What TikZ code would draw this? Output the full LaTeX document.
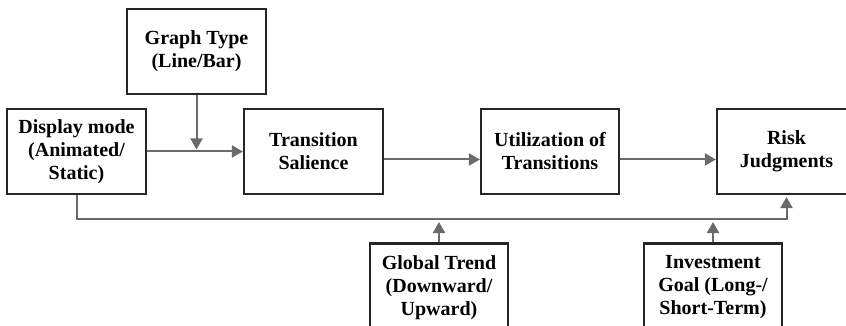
\documentclass[tikz,border=0pt]{standalone}
\usepackage{fontspec}
\setmainfont{Liberation Serif}
\usepackage{tikz}
\usetikzlibrary{arrows.meta,calc,positioning}
\definecolor{edge}{HTML}{262626}
\definecolor{wire}{HTML}{6A6A6A}

\tikzset{
  box/.style={rectangle,draw=edge,line width=2.1pt,fill=white,align=center,
    minimum width=139pt,minimum height=85pt,inner sep=2pt,
    font=\fontsize{20}{23}\selectfont\bfseries},
  flow/.style={draw=wire,line width=2pt,-{Triangle[length=11pt,width=12pt]}},
}

\begin{document}
\begin{tikzpicture}[x=1pt,y=1pt]
      \useasboundingbox (0,0) rectangle (846,-326);
      \clip (0,0) rectangle (846,-326);
      \node[box] (disp) at (76.5,-151.5) {Display mode\\(Animated/\\Static)};
      \node[box] (gtype) at (196.5,-51.5) {Graph Type\\(Line/Bar)};
      \node[box] (sal) at (313.5,-151.5) {Transition\\Salience};
      \node[box,minimum width=138pt] (util) at (550,-151.5) {Utilization of\\Transitions};
      \node[box] (risk) at (786.5,-151.5) {Risk\\Judgments};
      \node[box,minimum width=138pt,minimum height=88pt] (trend) at (439,-287.5) {Global Trend\\(Downward/\\Upward)};
      \node[box,minimum width=138pt,minimum height=88pt] (goal) at (713,-287.5) {Investment\\Goal (Long-/\\Short-Term)};
      \coordinate (bus) at (0,-219);
      \draw[flow] (disp.east) -- (sal.west);
      \draw[flow,shorten >=2pt] (gtype.south) -- (gtype.south |- disp.east);
      \draw[flow] ([yshift=-8pt]sal.east) -- ([yshift=-8pt]util.west);
      \draw[flow] ([yshift=-8pt]util.east) -- ([yshift=-8pt]risk.west);
      \draw[flow,shorten >=2pt] (disp.south) -- (disp.south |- bus) -| (risk.south);
      \draw[flow,shorten >=3pt] (trend.north) -- (trend.north |- bus);
      \draw[flow,shorten >=3pt] (goal.north) -- (goal.north |- bus);
    \end{tikzpicture}
\end{document}
